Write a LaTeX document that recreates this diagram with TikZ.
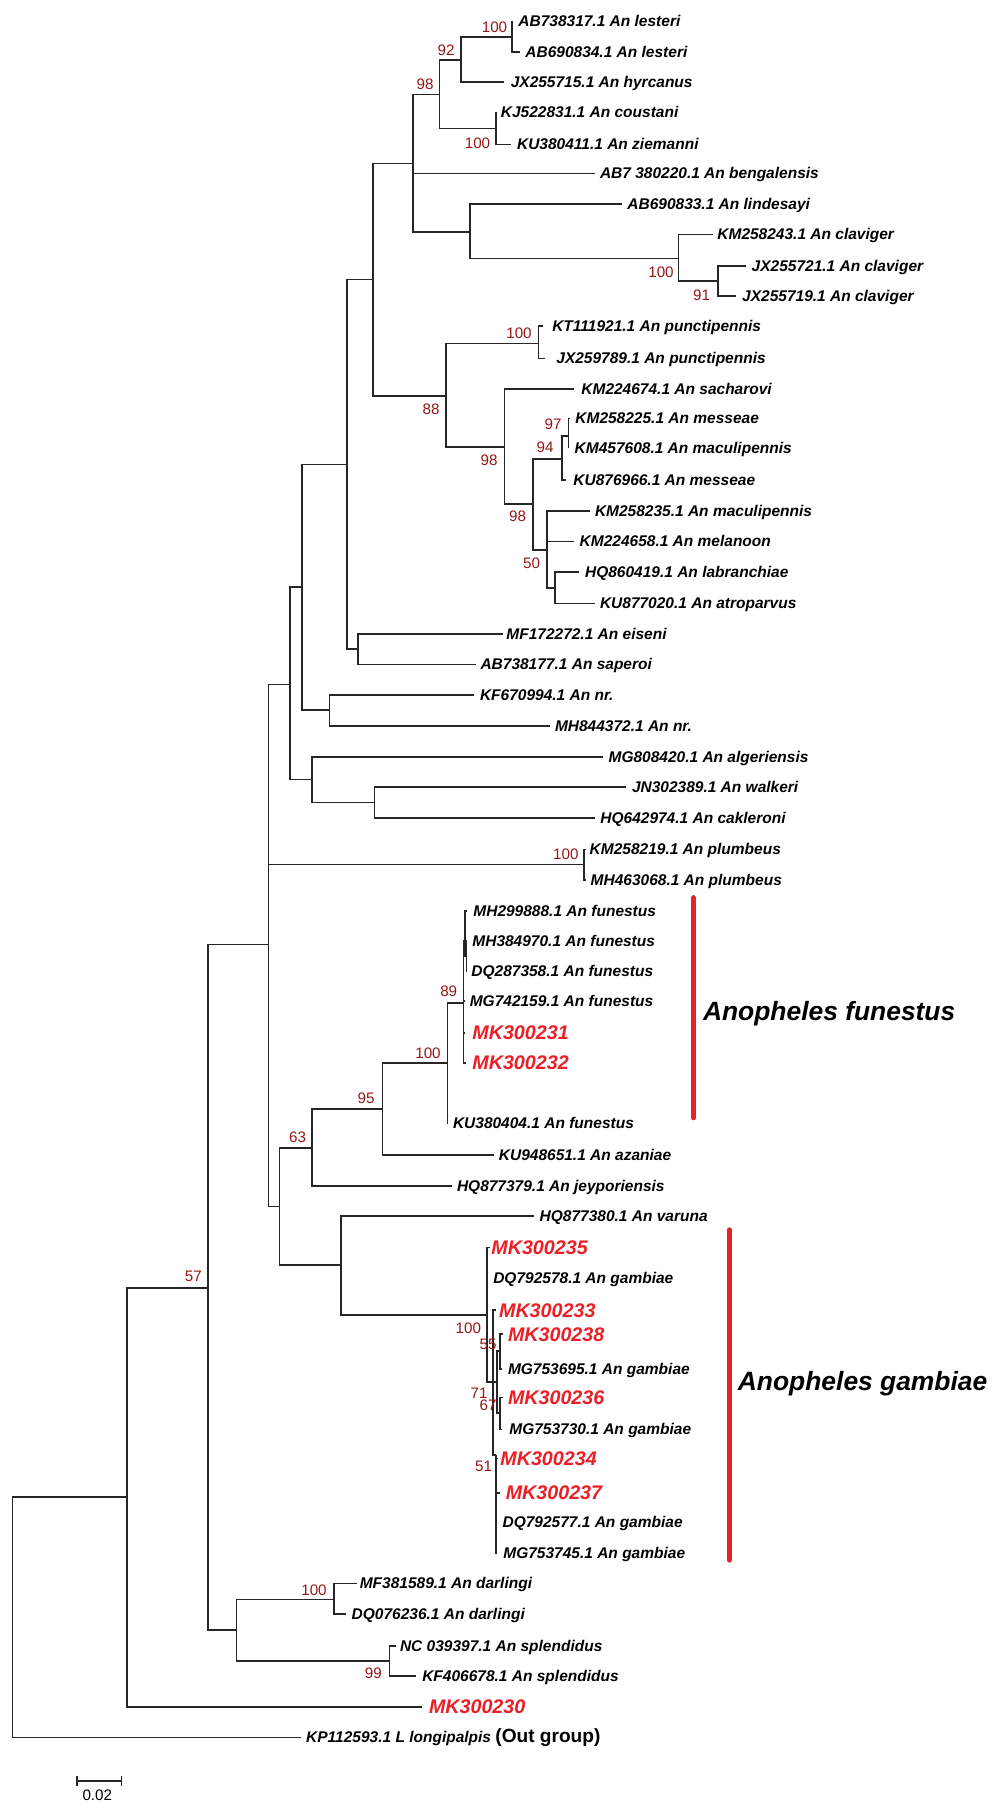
\documentclass[tikz,border=0pt]{standalone}
\usepackage{fontspec}
\setmainfont{Liberation Sans}
\definecolor{mkred}{RGB}{236,30,38}
\definecolor{bsred}{RGB}{150,24,24}
\begin{document}
\begin{tikzpicture}[x=0.5pt,y=-0.5pt,
  branch/.style={line width=0.8pt,draw=black!85},
  leaf/.style={font=\fontsize{7.75}{9}\selectfont\bfseries\itshape,inner sep=0pt,anchor=base west,yshift=-2.78pt},
  mk/.style={font=\fontsize{9.85}{11}\selectfont\bfseries\itshape,text=mkred,inner sep=0pt,anchor=base west,yshift=-3.53pt},
  bs/.style={font=\fontsize{7.6}{9}\selectfont,text=bsred,inner sep=0pt},
  clade/.style={font=\fontsize{13.2}{15}\selectfont\bfseries\itshape,inner sep=0pt,anchor=base west},
  cladebar/.style={line width=2.6pt,draw=mkred,line cap=round}]
\useasboundingbox (0,0) rectangle (1000,1817);
\fill[white] (0,0) rectangle (1000,1817);
\newcommand\TLeaf[5]{\coordinate (#1) at (#2,#3); \node[leaf] (#1-t) at (#4,#3) {#5};}
\newcommand\TMk[5]{\coordinate (#1) at (#2,#3); \node[mk] (#1-t) at (#4,#3) {#5};}
\newcommand\TBs[4]{\node[bs] (#1) at (#2,#3) {#4};}
\newcommand\TEdge[2]{\foreach \c in {#2} {\draw[branch] (#1) |- (\c);}}
% leaves
\TLeaf{L1}{511.7}{21}{518}{AB738317.1 An lesteri}
\TLeaf{L2}{520}{51.7}{525}{AB690834.1 An lesteri}
\TLeaf{L3}{504.2}{81.7}{510.4}{JX255715.1 An hyrcanus}
\TLeaf{L4}{495.9}{112.3}{500.5}{KJ522831.1 An coustani}
\TLeaf{L5}{510.9}{144.3}{516.7}{KU380411.1 An ziemanni}
\TLeaf{L6}{595.4}{173.3}{599.6}{AB7 380220.1 An bengalensis}
\TLeaf{L7}{621.6}{204}{627}{AB690833.1 An lindesayi}
\TLeaf{L8}{712.8}{234.3}{717}{KM258243.1 An claviger}
\TLeaf{L9}{746}{266}{751.3}{JX255721.1 An claviger}
\TLeaf{L10}{736.4}{296}{741.8}{JX255719.1 An claviger}
\TLeaf{L11}{542.8}{326}{551.9}{KT111921.1 An punctipennis}
\TLeaf{L12}{544.9}{358.3}{556}{JX259789.1 An punctipennis}
\TLeaf{L13}{573.9}{388.7}{581}{KM224674.1 An sacharovi}
\TLeaf{L14}{569.5}{418.3}{575}{KM258225.1 An messeae}
\TLeaf{L15}{568.5}{448.3}{574.3}{KM457608.1 An maculipennis}
\TLeaf{L16}{566.4}{480}{573}{KU876966.1 An messeae}
\TLeaf{L17}{589.6}{510.7}{594.6}{KM258235.1 An maculipennis}
\TLeaf{L18}{573.9}{541.3}{579.3}{KM224658.1 An melanoon}
\TLeaf{L19}{579.3}{572}{584.7}{HQ860419.1 An labranchiae}
\TLeaf{L20}{594.6}{603.3}{599.6}{KU877020.1 An atroparvus}
\TLeaf{L21}{502.6}{634}{506}{MF172272.1 An eiseni}
\TLeaf{L22}{475.5}{664.3}{480.1}{AB738177.1 An saperoi}
\TLeaf{L23}{474}{695}{479.6}{KF670994.1 An nr.}
\TLeaf{L24}{549.5}{726}{554.6}{MH844372.1 An nr.}
\TLeaf{L25}{603}{756.7}{608.2}{MG808420.1 An algeriensis}
\TLeaf{L26}{626}{786.7}{631.6}{JN302389.1 An walkeri}
\TLeaf{L27}{595.4}{817.7}{600}{HQ642974.1 An cakleroni}
\TLeaf{L28}{585.5}{849.3}{589.3}{KM258219.1 An plumbeus}
\TLeaf{L29}{585.5}{880}{590.3}{MH463068.1 An plumbeus}
\TLeaf{L30}{467}{910.7}{473}{MH299888.1 An funestus}
\TLeaf{L31}{467}{940.7}{472}{MH384970.1 An funestus}
\TLeaf{L32}{467}{971}{471}{DQ287358.1 An funestus}
\TLeaf{L33}{465}{1001}{469.4}{MG742159.1 An funestus}
\TMk{L34}{465}{1032.7}{472}{MK300231}
\TMk{L35}{466}{1062.7}{472}{MK300232}
\TLeaf{L36}{448}{1123}{452.6}{KU380404.1 An funestus}
\TLeaf{L37}{494.4}{1155}{498.5}{KU948651.1 An azaniae}
\TLeaf{L38}{451.5}{1185.7}{456.6}{HQ877379.1 An jeyporiensis}
\TLeaf{L39}{534.2}{1215.7}{539.3}{HQ877380.1 An varuna}
\TMk{L40}{489.5}{1247.3}{491}{MK300235}
\TLeaf{L41}{487.5}{1277.7}{492.9}{DQ792578.1 An gambiae}
\TMk{L42}{496}{1310}{498.7}{MK300233}
\TMk{L43}{503}{1334}{507.6}{MK300238}
\TLeaf{L44}{502}{1369}{507.6}{MG753695.1 An gambiae}
\TMk{L45}{503}{1397.3}{507.6}{MK300236}
\TLeaf{L46}{502}{1429.3}{509}{MG753730.1 An gambiae}
\TMk{L47}{497.5}{1458.3}{500}{MK300234}
\TMk{L48}{499.5}{1492.7}{505.4}{MK300237}
\TLeaf{L49}{497}{1521.7}{502.2}{DQ792577.1 An gambiae}
\TLeaf{L50}{497}{1552.7}{503}{MG753745.1 An gambiae}
\TLeaf{L51}{357}{1583.3}{359.4}{MF381589.1 An darlingi}
\TLeaf{L52}{346}{1614}{351.3}{DQ076236.1 An darlingi}
\TLeaf{L53}{396.4}{1646}{399.6}{NC 039397.1 An splendidus}
\TLeaf{L54}{416}{1676}{421.9}{KF406678.1 An splendidus}
\TMk{L55}{421.9}{1706.7}{428.6}{MK300230}
\TLeaf{L56}{301.3}{1737.3}{305.8}{KP112593.1 L longipalpis {\fontsize{9.55}{11}\selectfont\upshape (Out group)}}
% internal nodes
\coordinate (R) at (12.6,1617);
\coordinate (NI) at (127,1497);
\coordinate (N57) at (208,1288);
\coordinate (NJ) at (236.6,1630);
\coordinate (NDar) at (334,1599.3);
\coordinate (NSpl) at (389.3,1660.7);
\coordinate (NG) at (268.3,944.6);
\coordinate (NPl) at (584.2,864.3);
\coordinate (NF) at (290,684.3);
\coordinate (NAlg) at (311.7,779.3);
\coordinate (NWalk) at (374.3,802.3);
\coordinate (NE) at (301.7,586.7);
\coordinate (NNr) at (329.3,709.8);
\coordinate (ND) at (346.7,464.3);
\coordinate (NEis) at (357.7,649.2);
\coordinate (NB) at (372.8,279.3);
\coordinate (NA) at (413,163.3);
\coordinate (N98) at (439.6,94.3);
\coordinate (N92) at (461.1,60);
\coordinate (NLes) at (511.7,36.7);
\coordinate (NCou) at (495.9,128.3);
\coordinate (NLin) at (470.2,232);
\coordinate (NCla) at (678.4,258.3);
\coordinate (N91) at (718.2,281);
\coordinate (N88) at (446.2,395.7);
\coordinate (NPun) at (538.6,343.3);
\coordinate (N98a) at (504.6,446.7);
\coordinate (N98b) at (532.8,504);
\coordinate (N94) at (561.9,459);
\coordinate (N97) at (568.5,435.7);
\coordinate (N50) at (546.9,550);
\coordinate (NLab) at (554.8,587.7);
\coordinate (NH) at (279.3,1206.3);
\coordinate (N63) at (311.7,1147.8);
\coordinate (N95) at (382.3,1108.9);
\coordinate (N100f) at (447.3,1063);
\coordinate (N89) at (463.3,1002.7);
\coordinate (NS) at (465,941);
\coordinate (NS2) at (466.3,956);
\coordinate (NVar) at (341,1265.2);
\coordinate (N100g) at (487,1315);
\coordinate (N51) at (493,1382);
\coordinate (N71) at (497,1382);
\coordinate (N55) at (500,1351);
\coordinate (N67) at (500,1413);
\coordinate (NBot) at (496,1455);
% edges
\TEdge{R}{NI,L56}
\TEdge{NI}{N57,L55}
\TEdge{N57}{NG,NJ}
\TEdge{NJ}{NDar,NSpl}
\TEdge{NDar}{L51,L52}
\TEdge{NSpl}{L53,L54}
\TEdge{NG}{NF,NPl,NH}
\TEdge{NPl}{L28,L29}
\TEdge{NF}{NE,NAlg}
\TEdge{NAlg}{L25,NWalk}
\TEdge{NWalk}{L26,L27}
\TEdge{NE}{ND,NNr}
\TEdge{NNr}{L23,L24}
\TEdge{ND}{NB,NEis}
\TEdge{NEis}{L21,L22}
\TEdge{NB}{NA,N88}
\TEdge{NA}{N98,L6,NLin}
\TEdge{N98}{N92,NCou}
\TEdge{N92}{NLes,L3}
\TEdge{NLes}{L1,L2}
\TEdge{NCou}{L4,L5}
\TEdge{NLin}{L7,NCla}
\TEdge{NCla}{L8,N91}
\TEdge{N91}{L9,L10}
\TEdge{N88}{NPun,N98a}
\TEdge{NPun}{L11,L12}
\TEdge{N98a}{L13,N98b}
\TEdge{N98b}{N94,N50}
\TEdge{N94}{N97,L16}
\TEdge{N97}{L14,L15}
\TEdge{N50}{L17,L18,NLab}
\TEdge{NLab}{L19,L20}
\TEdge{NH}{N63,NVar}
\TEdge{N63}{N95,L38}
\TEdge{N95}{N100f,L37}
\TEdge{N100f}{N89,L36}
\TEdge{N89}{NS,L33,L34,L35}
\TEdge{NS}{L30,NS2}
\TEdge{NS2}{L31,L32}
\TEdge{NVar}{L39,N100g}
\TEdge{N100g}{L40,L41,N51}
\TEdge{N51}{L42,N71,NBot}
\TEdge{N71}{N55,N67}
\TEdge{N55}{L43,L44}
\TEdge{N67}{L45,L46}
\TEdge{NBot}{L47,L48,L49,L50}
% bootstrap values
\TBs{b1}{494.5}{27}{100}
\TBs{b2}{446}{50}{92}
\TBs{b3}{425}{84}{98}
\TBs{b4}{477.5}{143}{100}
\TBs{b5}{661}{272.3}{100}
\TBs{b6}{701.5}{295}{91}
\TBs{b7}{519}{333}{100}
\TBs{b8}{431}{409}{88}
\TBs{b9}{553}{424}{97}
\TBs{b10}{545}{447.7}{94}
\TBs{b11}{489}{460}{98}
\TBs{b12}{517.5}{516.7}{98}
\TBs{b13}{531.6}{563}{50}
\TBs{b14}{565.8}{854.3}{100}
\TBs{b15}{448.7}{991}{89}
\TBs{b16}{428}{1053.3}{100}
\TBs{b17}{366}{1098.7}{95}
\TBs{b18}{297.7}{1137.5}{63}
\TBs{b19}{193.3}{1276.3}{57}
\TBs{b20}{468.4}{1328.3}{100}
\TBs{b21}{488}{1344}{55}
\TBs{b22}{479}{1393.3}{71}
\TBs{b23}{488}{1405.7}{67}
\TBs{b24}{483.5}{1466.7}{51}
\TBs{b25}{314}{1590}{100}
\TBs{b26}{373.4}{1673.3}{99}
% clade bars and names
\coordinate (FB1) at (693.4,897.7);
\coordinate (FB2) at (693.4,1117.7);
\draw[cladebar] (FB1) -- (FB2);
\coordinate (GB1) at (729.5,1230);
\coordinate (GB2) at (729.5,1560);
\draw[cladebar] (GB1) -- (GB2);
\node[clade] (CF) at (702.6,1020.5) {Anopheles funestus};
\node[clade] (CG) at (737.5,1390.7) {Anopheles gambiae};
% scale bar
\coordinate (SB1) at (76.8,1780.7);
\coordinate (SB2) at (121.4,1780.7);
\draw[branch] (SB1) -- (SB2);
\draw[branch] ([yshift=2.5pt]SB1) -- ([yshift=-2.5pt]SB1);
\draw[branch] ([yshift=2.5pt]SB2) -- ([yshift=-2.5pt]SB2);
\node[font=\fontsize{7.6}{9}\selectfont,inner sep=0pt] (SBl) at (97.3,1795) {0.02};
\end{tikzpicture}
\end{document}
